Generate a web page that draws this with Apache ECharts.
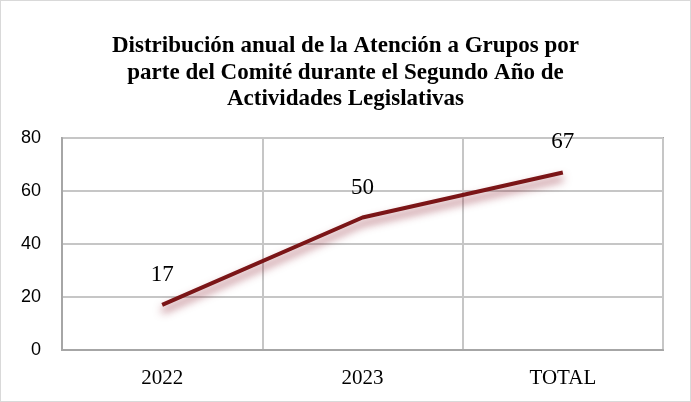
<!DOCTYPE html>
<html>
<head>
<meta charset="utf-8">
<script src="https://cdn.jsdelivr.net/npm/echarts@6/dist/echarts.min.js"></script>
<style>
  html, body { margin: 0; padding: 0; background: #fff; }
  #chart { width: 689px; height: 400px; border: 1px solid #d9d9d9; }
</style>
</head>
<body>
<div id="chart"></div>
<script>
// datos del gráfico
var categorias = ['2022', '2023', 'TOTAL'];
var valores = [17, 50, 67];
var ticksY = [0, 20, 40, 60, 80];

var myChart = echarts.init(document.getElementById('chart'));

var option = {
  animation: false,
  title: {
    text: 'Distribución anual de la Atención a Grupos por\nparte del Comité durante el Segundo Año de\nActividades Legislativas',
    left: 'center',
    top: 27,
    textStyle: {
      fontFamily: 'Liberation Serif',
      fontWeight: 'bold',
      fontSize: 23,
      lineHeight: 26.5,
      color: '#000'
    }
  },
  grid: {
    left: 61, right: 27, top: 137, bottom: 51,
    show: true,
    borderColor: '#a6a6a6',
    borderWidth: 2
  },
  xAxis: {
    type: 'category',
    data: categorias,
    boundaryGap: true,
    axisLine: { lineStyle: { color: '#a6a6a6', width: 2 } },
    axisTick: { show: false },
    splitLine: { show: true, lineStyle: { color: '#c6c6c6', width: 2 } },
    axisLabel: {
      margin: 18,
      fontFamily: 'Liberation Serif',
      fontSize: 21,
      color: '#000'
    }
  },
  yAxis: {
    type: 'value',
    min: ticksY[0],
    max: ticksY[ticksY.length - 1],
    interval: 20,
    axisLine: { show: true, lineStyle: { color: '#a6a6a6', width: 2 } },
    axisTick: { show: false },
    splitLine: { lineStyle: { color: '#c6c6c6', width: 2 } },
    axisLabel: {
      margin: 21,
      fontFamily: 'Liberation Sans',
      fontSize: 18,
      color: '#000'
    }
  },
  series: [{
    type: 'line',
    data: valores,
    symbol: 'circle',
    symbolSize: 1,
    itemStyle: { color: 'rgba(0,0,0,0)' },
    lineStyle: {
      color: '#7b1517',
      width: 4,
      shadowColor: 'rgba(140, 30, 45, 0.7)',
      shadowBlur: 8,
      shadowOffsetY: 6,
      shadowOffsetX: 0
    },
    label: {
      show: true,
      position: 'top',
      distance: 18,
      fontFamily: 'Liberation Serif',
      fontSize: 23,
      color: '#000'
    }
  }]
};

myChart.setOption(option);
</script>
</body>
</html>
